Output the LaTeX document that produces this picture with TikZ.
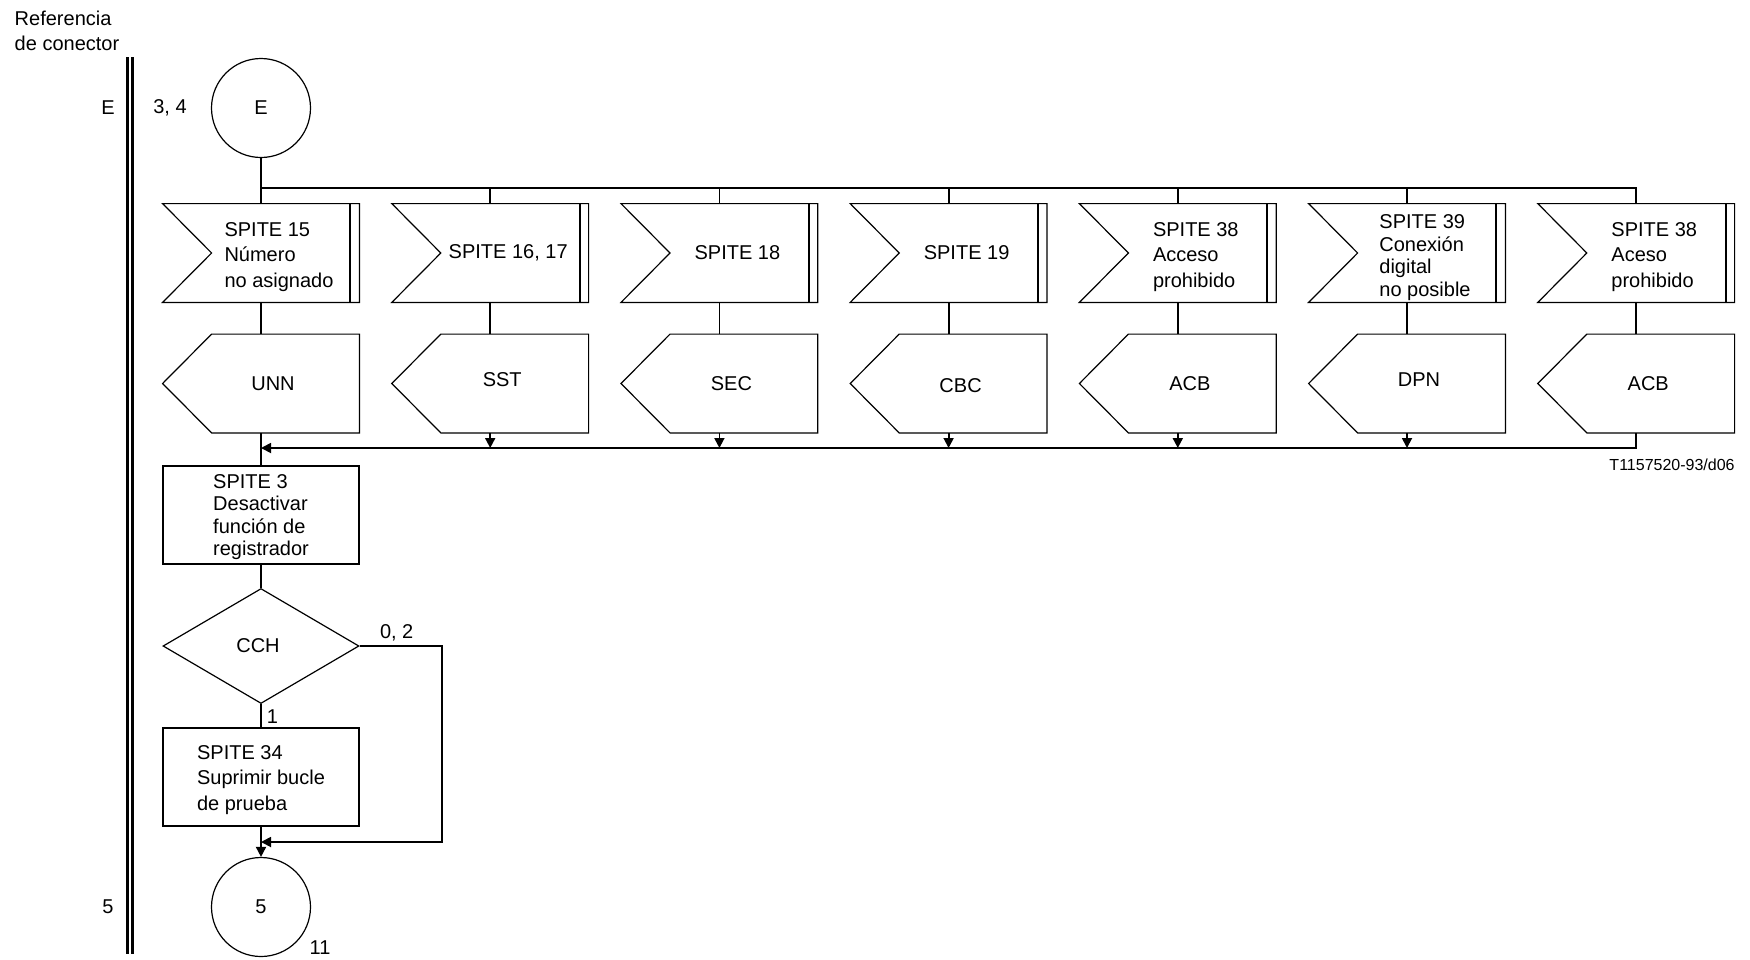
\documentclass[tikz,border=0pt]{standalone}
\usepackage{fontspec}
\setmainfont{Liberation Sans}
\usetikzlibrary{arrows.meta,shapes.geometric}

\begin{document}
\begin{tikzpicture}[x=0.5pt,y=-0.5pt,font=\fontsize{10}{12.8}\selectfont]
  \tikzset{
    outl/.style={draw,line width=0.6pt},
    conn/.style={line width=0.9pt},
    arr/.style={-{Triangle[length=5pt,width=5pt]}},
    blk/.style={rectangle,minimum width=98pt,minimum height=49pt,inner sep=0pt},
    txt/.style={align=left,inner sep=0pt},
    conbox/.style={circle,outl,minimum size=49.5pt,inner sep=0pt},
    lab/.style={inner sep=0pt}
  }
  \useasboundingbox (0,0) rectangle (1750,959);

  % referencia de conector
  \node[txt] (ref) at (67,31) {Referencia\\de conector};
  \draw[line width=1.2pt] (127.3,57) -- (127.3,954);
  \draw[line width=1.2pt] (132.5,57) -- (132.5,954);
  \node[lab] (refE) at (108,108) {E};
  \node[lab] (ref5) at (108,907) {5};

  \node[conbox] (cE) at (261,108) {E};
  \node[lab] (fromE) at (170,108) {3, 4};
  \coordinate (fork) at (261,188);
  \draw[conn] (cE) -- (fork);

  % ramas de senales
  \foreach \i/\x/\sy/\sig/\msg/\my in {
    1/261/257/{SPITE 15\\Número\\no asignado}/UNN/383.5,
    2/490.2/253/{SPITE 16, 17}/SST/380,
    3/719.4/253/{SPITE 18}/SEC/383.5,
    4/948.6/253/{SPITE 19}/CBC/385.5,
    5/1177.8/257/{SPITE 38\\Acceso\\prohibido}/ACB/383.5,
    6/1407/257.5/{SPITE 39\\[-1.5pt]Conexión\\[-1.5pt]digital\\[-1.5pt]no posible}/DPN/380,
    7/1636.2/257/{SPITE 38\\Aceso\\prohibido}/ACB/383.5} {
    \node[blk] (in\i) at (\x,253) {};
    \draw[outl] (in\i.north west) -- (in\i.north east) -- (in\i.south east) -- (in\i.south west) -- ([shift={(49,0)}]in\i.west) -- cycle;
    \draw[line width=1pt] ([shift={(-9,0)}]in\i.north east) -- ([shift={(-9,0)}]in\i.south east);
    \node[txt] (sig\i) at (\x+18,\sy) {\sig};
    \node[blk] (out\i) at (\x,383.5) {};
    \draw[outl] (out\i.west) -- ([shift={(49,0)}]out\i.north west) -- (out\i.north east) -- (out\i.south east) -- ([shift={(49,0)}]out\i.south west) -- cycle;
    \node[txt] (msg\i) at (\x+12,\my) {\msg};
    \coordinate (m\i) at (\x,448);
    \draw[conn] (fork) -| (in\i.north);
    \draw[conn] (in\i) -- (out\i);
  }
  \foreach \i in {2,...,6}
    \draw[conn,arr] (out\i) -- (m\i);
  \draw[conn,arr] (out7) |- (m1);

  \node[blk,outl] (sp3) at (261,515) {};
  \node[txt] (sp3t) at (261,517) {SPITE 3\\[-1.5pt]Desactivar\\[-1.5pt]función de\\[-1.5pt]registrador};
  \node[diamond,outl,minimum width=98pt,minimum height=57.5pt,inner sep=0pt] (cch) at (261,646) {};
  \node[lab] (cchtxt) at (258,646) {CCH};
  \node[blk,outl] (sp34) at (261,777) {};
  \node[txt] (sp34t) at (261,780) {SPITE 34\\Suprimir bucle\\de prueba};
  \node[conbox] (c5) at (261,907) {5};
  \node[lab] (n11) at (320,948) {11};
  \node[lab,anchor=east,font=\fontsize{8}{9.6}\selectfont] (fig) at (1735,465) {T1157520-93/d06};

  \coordinate (rx) at (442,646);
  \coordinate (back) at (261,842);
  \draw[conn] (out1) -- (sp3);
  \draw[conn] (sp3) -- (cch);
  \draw[conn] (cch.south) -- node[pos=0,anchor=north west,inner sep=2.5pt] (k1) {1} (sp34.north);
  \draw[conn,arr] (cch.east) -- node[above,inner sep=2pt,pos=0.45] (k02) {0, 2} (rx) |- (back);
  \draw[conn,arr] (sp34) -- (c5);
\end{tikzpicture}
\end{document}
